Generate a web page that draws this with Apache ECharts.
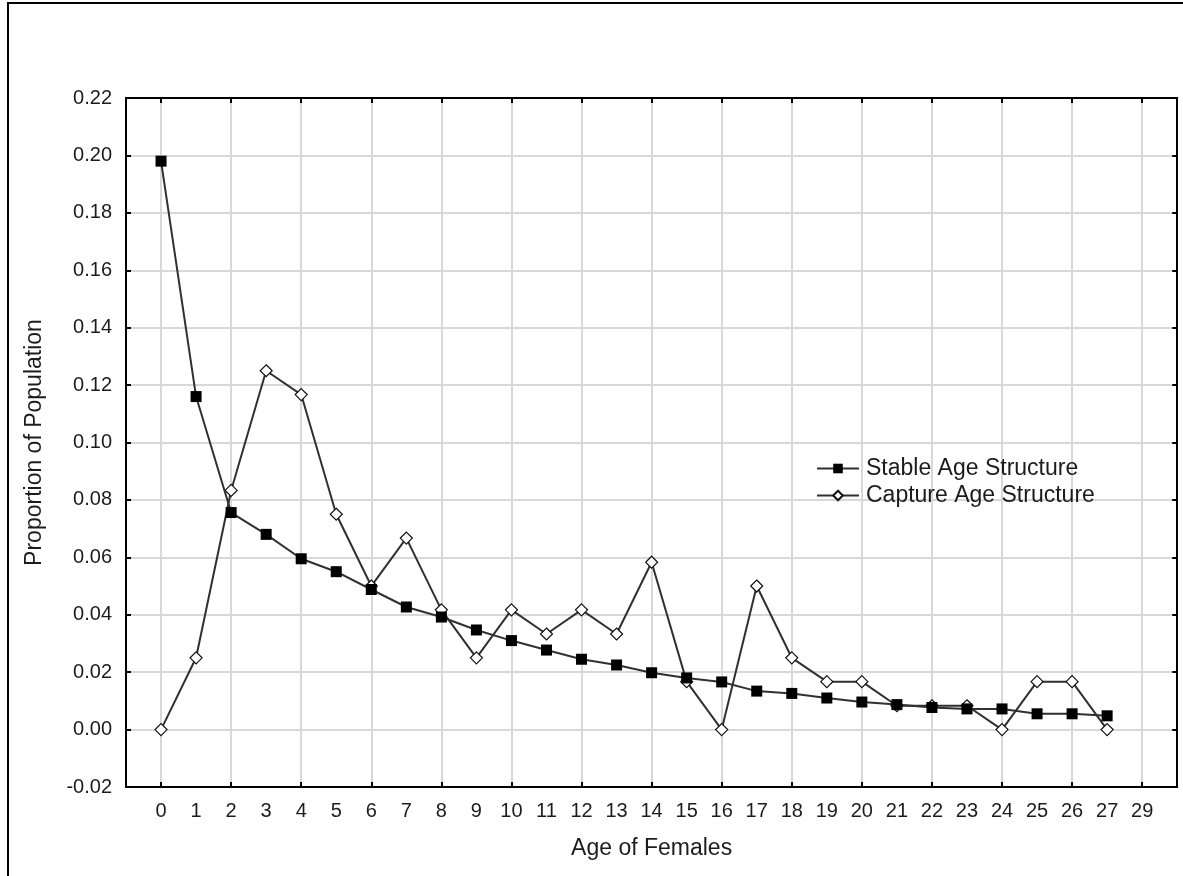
<!DOCTYPE html>
<html>
<head>
<meta charset="utf-8">
<script src="https://cdn.jsdelivr.net/npm/echarts@6/dist/echarts.min.js"></script>
<style>
html,body{margin:0;padding:0;background:#fff;}
#chart{width:1183px;height:876px;}
</style>
</head>
<body>
<div id="chart"></div>
<script>
// ---- data ----
const xTickLabels = ['0','1','2','3','4','5','6','7','8','9','10','11','12','13','14','15','16','17','18','19','20','21','22','23','24','25','26','27','29'];
const ages = ['0','1','2','3','4','5','6','7','8','9','10','11','12','13','14','15','16','17','18','19','20','21','22','23','24','25','26','27'];
const stableAge = [0.198,0.116,0.0756,0.068,0.0595,0.055,0.0488,0.0427,0.0392,0.0347,0.031,0.0277,0.0245,0.0225,0.0198,0.018,0.0166,0.0134,0.0126,0.011,0.0096,0.0087,0.0077,0.0072,0.0072,0.0055,0.0055,0.0048];
const captureAge = [0,0.025,0.0833,0.125,0.1167,0.075,0.05,0.0667,0.0417,0.025,0.0417,0.0333,0.0417,0.0333,0.0583,0.0167,0,0.05,0.025,0.0167,0.0167,0.0083,0.0083,0.0083,0,0.0167,0.0167,0];
const seriesNames = ['Stable Age Structure','Capture Age Structure'];
const xAxisTitle = 'Age of Females';
const yAxisTitle = 'Proportion of Population';

// category slots: one blank before and after the labelled ticks
const categories = [''].concat(xTickLabels).concat([' ']);
const gridIdx = function (i) { return i >= 1 && i <= xTickLabels.length && (i - 1) % 2 === 0; };

const FONT = '"Liberation Sans", Arial, sans-serif';
const TXT = '#1c1c1c';

const chart = echarts.init(document.getElementById('chart'));
chart.setOption({
  animation: false,
  backgroundColor: '#fff',
  textStyle: { fontFamily: FONT },
  grid: { left: 126, top: 98, right: 4, bottom: 89, containLabel: false },
  legend: {
    orient: 'vertical',
    left: 811,
    top: 452,
    itemWidth: 42,
    itemHeight: 12,
    itemGap: 4,
    data: seriesNames,
    textStyle: { fontFamily: FONT, fontSize: 23, color: TXT, padding: [0, 0, 0, 2] }
  },
  xAxis: [{
    type: 'category',
    data: categories,
    boundaryGap: false,
    name: xAxisTitle,
    nameLocation: 'middle',
    nameGap: 50,
    nameTextStyle: { fontFamily: FONT, fontSize: 23, color: TXT },
    axisLine: { show: true, onZero: false, lineStyle: { color: '#000', width: 2 } },
    axisTick: { show: true, inside: true, length: 5, interval: gridIdx, lineStyle: { color: '#000', width: 2 } },
    axisLabel: { interval: 0, fontFamily: FONT, fontSize: 20, color: TXT, margin: 14 },
    splitLine: { show: true, interval: gridIdx, lineStyle: { color: '#d8d8d8', width: 2 } }
  }, {
    type: 'category',
    data: categories,
    boundaryGap: false,
    position: 'top',
    axisLine: { show: true, onZero: false, lineStyle: { color: '#000', width: 2 } },
    axisTick: { show: true, inside: true, length: 5, interval: gridIdx, lineStyle: { color: '#000', width: 2 } },
    axisLabel: { show: false },
    splitLine: { show: false }
  }],
  yAxis: [{
    type: 'value',
    min: -0.02,
    max: 0.22,
    interval: 0.02,
    name: yAxisTitle,
    nameLocation: 'middle',
    nameGap: 80,
    nameTextStyle: { fontFamily: FONT, fontSize: 23, color: TXT },
    axisLine: { show: true, onZero: false, lineStyle: { color: '#000', width: 2 } },
    axisTick: { show: true, inside: true, length: 5, lineStyle: { color: '#000', width: 2 } },
    axisLabel: { fontFamily: FONT, fontSize: 20, color: TXT, margin: 14, formatter: function (v) { return v.toFixed(2); } },
    splitLine: { show: true, lineStyle: { color: '#d8d8d8', width: 2 } }
  }, {
    type: 'value',
    min: -0.02,
    max: 0.22,
    interval: 0.02,
    position: 'right',
    axisLine: { show: true, onZero: false, lineStyle: { color: '#000', width: 2 } },
    axisTick: { show: true, inside: true, length: 5, lineStyle: { color: '#000', width: 2 } },
    axisLabel: { show: false },
    splitLine: { show: false }
  }],
  series: [{
    name: seriesNames[1],
    type: 'line',
    data: ages.map(function (a, i) { return [a, captureAge[i]]; }),
    symbol: 'diamond',
    symbolSize: 12,
    showAllSymbol: true,
    lineStyle: { color: '#303030', width: 2 },
    itemStyle: { color: '#fff', borderColor: '#111', borderWidth: 1.2 },
    z: 2
  }, {
    name: seriesNames[0],
    type: 'line',
    data: ages.map(function (a, i) { return [a, stableAge[i]]; }),
    symbol: 'rect',
    symbolSize: 11,
    showAllSymbol: true,
    lineStyle: { color: '#303030', width: 2 },
    itemStyle: { color: '#000', borderColor: '#000', borderWidth: 0 },
    z: 3
  }],
  graphic: [{
    type: 'rect',
    shape: { x: 8, y: 3, width: 1300, height: 1000 },
    style: { fill: 'none', stroke: '#000', lineWidth: 2 },
    silent: true
  }]
});
</script>
</body>
</html>
